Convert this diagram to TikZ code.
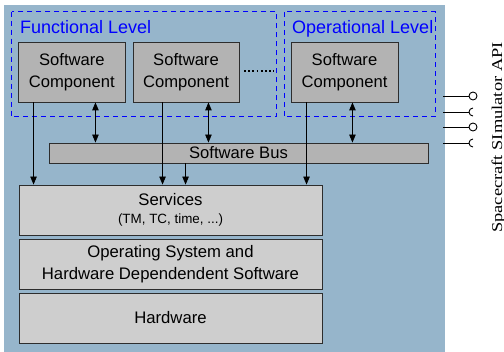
\documentclass[tikz,border=0pt]{standalone}
\usepackage{fontspec}
\setmainfont{Liberation Sans}
\newfontfamily\serifapi{Liberation Serif}
\usetikzlibrary{arrows.meta,calc}

\definecolor{panelblue}{RGB}{150,181,203}
\definecolor{compgray}{RGB}{179,179,179}
\definecolor{layergray}{RGB}{206,206,206}
\definecolor{edgegray}{RGB}{45,45,45}
\definecolor{levelblue}{RGB}{0,0,255}

\tikzset{
  comp/.style={draw=edgegray, line width=0.9pt, fill=compgray, inner sep=0pt,
    minimum height=60pt, align=center, font=\fontsize{16.6}{22}\selectfont},
  layer/.style={draw=edgegray, line width=0.9pt, fill=layergray, inner sep=0pt,
    minimum width=303pt, minimum height=50pt, align=center},
  level/.style={draw=levelblue, line width=1pt, dash pattern=on 5pt off 4pt},
  leveltext/.style={text=levelblue, anchor=base west, inner sep=0pt,
    font=\fontsize{18}{20}\selectfont},
  arr/.style={line width=0.9pt, -{Triangle[length=8pt,width=6.5pt]}},
  darr/.style={line width=0.9pt, {Triangle[length=8pt,width=6.5pt]}-{Triangle[length=8pt,width=6.5pt]}},
  apiline/.style={line width=0.9pt},
  ball/.style={circle, draw, line width=0.9pt, minimum size=8pt, inner sep=0pt, fill=white},
}

\begin{document}
\begin{tikzpicture}[x=1pt,y=-1pt]
  \useasboundingbox (0,0) rectangle (504,352);

  % simulator panel
  \fill[panelblue] (4,5) rectangle (445,352);

  % functional / operational levels
  \draw[level] (11.7,11.7) rectangle (276.7,117);
  \draw[level] (284,12) rectangle (435,117);
  \node[leveltext] (fltext) at (20,33.5) {Functional Level};
  \node[leveltext] (oltext) at (292,33.5) {Operational Level};

  % software components
  \node[comp, minimum width=106.3pt] (c1) at (71.85,72) {Software\\Component};
  \node[comp, minimum width=106pt] (c2) at (186,72) {Software\\Component};
  \node[comp, minimum width=107pt] (c3) at (344.5,72) {Software\\Component};
  \coordinate (dotsA) at (244,71);
  \coordinate (dotsB) at (274,71);
  \draw[line width=2pt, dash pattern=on 1.8pt off 2.4pt] (dotsA) -- (dotsB);

  % software bus
  \node[draw=edgegray, line width=0.9pt, fill=compgray, minimum width=379pt,
        minimum height=20pt, inner sep=0pt, font=\fontsize{16.6}{18}\selectfont]
        (bus) at (238.5,153) {Software Bus};

  % layered platform
  \node[layer, font=\fontsize{16.7}{18}\selectfont] (srv) at (170.5,210)
    {Services\\{\fontsize{13.4}{16}\selectfont (TM, TC, time, ...)}};
  \node[layer, font=\fontsize{16.7}{22}\selectfont] (os) at (170.5,264)
    {Operating System and\\Hardware Dependendent Software};
  \node[layer, font=\fontsize{16.7}{20}\selectfont] (hw) at (170.5,318) {Hardware};

  % component connections
  \draw[arr] ([xshift=15.3pt]c1.south west) -- ([xshift=15.3pt]c1.south west |- srv.north);
  \draw[darr] ([xshift=-30pt]c1.south east) -- ([xshift=-30pt]c1.south east |- bus.north);
  \draw[arr] ([xshift=30pt]c2.south west) -- ([xshift=30pt]c2.south west |- srv.north);
  \draw[darr] ([xshift=-31pt]c2.south east) -- ([xshift=-31pt]c2.south east |- bus.north);
  \draw[arr] ([xshift=137pt]bus.south west) -- ([xshift=137pt]bus.south west |- srv.north);
  \draw[arr] ([xshift=16pt]c3.south west) -- ([xshift=16pt]c3.south west |- srv.north);
  \draw[darr] ([xshift=-46pt]c3.south east) -- ([xshift=-46pt]c3.south east |- bus.north);

  % simulator API interfaces
  \coordinate (p1) at (443,96);
  \coordinate (p2) at (443,112);
  \coordinate (p3) at (443,127);
  \coordinate (p4) at (443,143);
  \node[ball] (b1) at (473,96) {};
  \node[ball] (b3) at (473,127) {};
  \coordinate (s2) at (469,112);
  \coordinate (s4) at (469,143);
  \draw[apiline] (p1) -- (b1.west);
  \draw[apiline] (p3) -- (b3.west);
  \draw[apiline] (p2) -- (s2);
  \draw[apiline] (p4) -- (s4);
  \draw[apiline] (s2) ++(4,-4) arc[start angle=90, end angle=270, radius=4pt];
  \draw[apiline] (s4) ++(4,-4) arc[start angle=90, end angle=270, radius=4pt];

  \node[rotate=90, anchor=base, inner sep=0pt] (api) at (502,137.5)
    {\scalebox{1.23}[1]{\serifapi\fontsize{15}{18}\selectfont Spacecraft SImulator API}};
\end{tikzpicture}
\end{document}
